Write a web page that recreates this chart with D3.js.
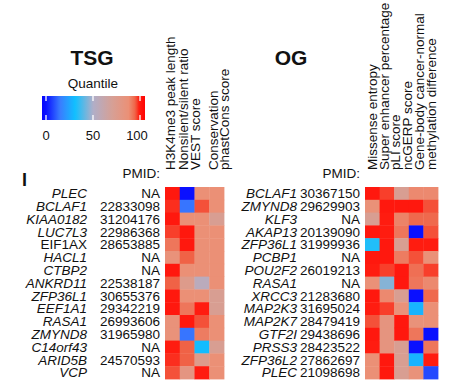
<!DOCTYPE html>
<html>
<head>
<meta charset="utf-8">
<script src="https://cdnjs.cloudflare.com/ajax/libs/d3/7.8.5/d3.min.js"></script>
<style>
  body { margin: 0; background: #fff; }
  text { font-family: "Liberation Sans", Arial, sans-serif; fill: #111; }
</style>
</head>
<body>
<div id="chart"></div>
<script>
// ---- data ----
var tsgGenes = ["PLEC", "BCLAF1", "KIAA0182", "LUC7L3", "EIF1AX", "HACL1", "CTBP2", "ANKRD11",
                "ZFP36L1", "EEF1A1", "RASA1", "ZMYND8", "C14orf43", "ARID5B", "VCP"];
var tsgPmid = ["NA", "22833098", "31204176", "22986368", "28653885", "NA", "NA", "22538187",
               "30655376", "29342219", "26993606", "31965980", "NA", "24570593", "NA"];
var tsgUpright = ["EIF1AX"];
var tsgMetrics = [["H3K4me3 peak length"], ["Nonsilent/silent ratio"], ["VEST score"],
                  ["Conservation", "phastCons score"]];
var tsgValues = [
    [100, 98, 100, 97, 92, 86, 100, 95, 100, 100, 86, 86, 99, 98, 96],   // H3K4me3
    [0, 14, 88, 100, 100, 95, 88, 76, 88, 92, 100, 14, 95, 95, 82],      // nonsilent/silent
    [88, 96, 88, 88, 88, 88, 88, 55, 88, 99, 96, 91, 30, 76, 99],        // VEST
    [88, 88, 72, 88, 88, 88, 88, 88, 72, 72, 88, 88, 72, 88, 88]         // phastCons
];

var ogGenes = ["BCLAF1", "ZMYND8", "KLF3", "AKAP13", "ZFP36L1", "PCBP1", "POU2F2", "RASA1",
               "XRCC3", "MAP2K3", "MAP2K7", "GTF2I", "PRSS3", "ZFP36L2", "PLEC"];
var ogPmid = ["30367150", "29629903", "NA", "20139090", "31999936", "NA", "26019213", "NA",
              "21283680", "31695024", "28479419", "29438696", "28423522", "27862697", "21098698"];
var ogMetrics = [["Missense entropy"], ["Super enhancer percentage"], ["pLI score"], ["ncGERP score"],
                 ["Gene-body cancer-normal", "methylation difference"]];
var ogValues = [
    [100, 87, 72, 100, 33, 100, 99, 87, 100, 99, 96, 100, 99, 88, 88],   // missense entropy
    [97, 100, 99, 99, 100, 100, 97, 45, 89, 97, 83, 83, 83, 100, 100],   // super enhancer
    [72, 100, 90, 92, 72, 91, 100, 100, 72, 86, 100, 100, 72, 72, 72],   // pLI
    [89, 100, 94, 0, 99, 96, 93, 92, 0, 28, 86, 92, 0, 28, 86],          // ncGERP
    [89, 96, 94, 96, 99, 87, 97, 89, 94, 88, 88, 0, 92, 99, 8]           // methylation diff
];

var legendTicks = [0, 50, 100];

// ---- scales ----
var color = d3.scaleLinear()
    .domain([-6, 0, 15, 31, 50, 70, 88, 95, 99, 106])
    .range(["#0000ff", "#0a10ff", "#3a7cff", "#10c0ff", "#b0aec8", "#d6a096",
            "#eb9076", "#f06246", "#ff1c10", "#ff0000"])
    .clamp(true);

var W = 454, H = 387,
    rowH = 12.8,
    heatTop = 187;

var svg = d3.select("#chart").append("svg")
    .attr("width", W)
    .attr("height", H);

var y = d3.scaleBand()
    .domain(d3.range(15))
    .range([heatTop, heatTop + rowH * 15]);

function drawPanel(opt) {
    var g = svg.append("g"),
        x = d3.scaleBand()
            .domain(d3.range(opt.values.length))
            .range([opt.x0, opt.x1]),
        cells = [];

    opt.values.forEach(function (col, c) {
        col.forEach(function (v, r) { cells.push({c: c, r: r, v: v}); });
    });

    g.selectAll("rect.cell")
        .data(cells)
        .enter().append("rect")
        .attr("class", "cell")
        .attr("x", function (d) { return x(d.c); })
        .attr("y", function (d) { return y(d.r); })
        .attr("width", x.bandwidth() + 0.4)
        .attr("height", y.bandwidth() + 0.4)
        .attr("fill", function (d) { return color(d.v); });

    // rotated column headers
    var lines = [];
    opt.metrics.forEach(function (m) { m.forEach(function (s) { lines.push(s); }); });
    g.selectAll("text.head")
        .data(lines)
        .enter().append("text")
        .attr("class", "head")
        .attr("transform", function (d, i) {
            return "translate(" + opt.headX[i] + ",170) rotate(-90)";
        })
        .style("font-size", "13.5px")
        .text(function (d) { return d; });

    // gene names + PMIDs
    g.selectAll("text.gene")
        .data(opt.genes)
        .enter().append("text")
        .attr("class", "gene")
        .attr("x", opt.geneX)
        .attr("y", function (d, i) { return y(i) + y.bandwidth() / 2 + 4.8; })
        .attr("text-anchor", "end")
        .style("font-size", "13.5px")
        .style("font-style", function (d) { return opt.upright.indexOf(d) >= 0 ? "normal" : "italic"; })
        .text(function (d) { return d; });

    g.selectAll("text.pmid")
        .data(opt.pmid)
        .enter().append("text")
        .attr("class", "pmid")
        .attr("x", opt.pmidX)
        .attr("y", function (d, i) { return y(i) + y.bandwidth() / 2 + 4.8; })
        .attr("text-anchor", "end")
        .style("font-size", "13.5px")
        .text(function (d) { return d; });

    g.append("text")
        .attr("x", opt.pmidX)
        .attr("y", 178)
        .attr("text-anchor", "end")
        .style("font-size", "13.5px")
        .text("PMID:");

    g.append("text")
        .attr("x", opt.titleX)
        .attr("y", 65)
        .attr("text-anchor", "middle")
        .style("font-size", "21px")
        .style("font-weight", "bold")
        .text(opt.title);
}

drawPanel({
    title: "TSG", titleX: 92,
    genes: tsgGenes, pmid: tsgPmid, upright: tsgUpright,
    metrics: tsgMetrics, values: tsgValues,
    x0: 165, x1: 224, geneX: 87, pmidX: 160,
    headX: [175, 188, 200, 218, 229]
});

drawPanel({
    title: "OG", titleX: 291,
    genes: ogGenes, pmid: ogPmid, upright: [],
    metrics: ogMetrics, values: ogValues,
    x0: 365, x1: 438, geneX: 297, pmidX: 360,
    headX: [377, 389, 400, 412, 424, 436]
});

// panel letter
svg.append("text")
    .attr("x", 22)
    .attr("y", 186)
    .style("font-size", "18px")
    .style("font-weight", "bold")
    .text("I");

// ---- colour legend ----
var lx = d3.scaleLinear().domain([0, 100]).range([46, 140]),
    lg = svg.append("g"),
    lo = lx.invert(42), hi = lx.invert(145),
    grad = svg.append("defs").append("linearGradient")
        .attr("id", "qgrad");

grad.selectAll("stop")
    .data(d3.range(0, 1.0001, 0.02))
    .enter().append("stop")
    .attr("offset", function (d) { return d; })
    .attr("stop-color", function (d) { return color(lo + d * (hi - lo)); });

lg.append("text")
    .attr("x", 93)
    .attr("y", 88)
    .attr("text-anchor", "middle")
    .style("font-size", "13.5px")
    .text("Quantile");

lg.append("rect")
    .attr("x", 42).attr("y", 96)
    .attr("width", 103).attr("height", 24)
    .attr("fill", "url(#qgrad)");

legendTicks.forEach(function (t) {
    lg.append("line")
        .attr("x1", lx(t)).attr("x2", lx(t))
        .attr("y1", 96).attr("y2", 101)
        .attr("stroke", "#fff").attr("stroke-width", 1.3);
    lg.append("line")
        .attr("x1", lx(t)).attr("x2", lx(t))
        .attr("y1", 115).attr("y2", 120)
        .attr("stroke", "#fff").attr("stroke-width", 1.3);
    lg.append("text")
        .attr("x", lx(t) - (t === 100 ? 3 : 0))
        .attr("y", 140)
        .attr("text-anchor", "middle")
        .style("font-size", "13px")
        .text(t);
});
</script>
</body>
</html>
